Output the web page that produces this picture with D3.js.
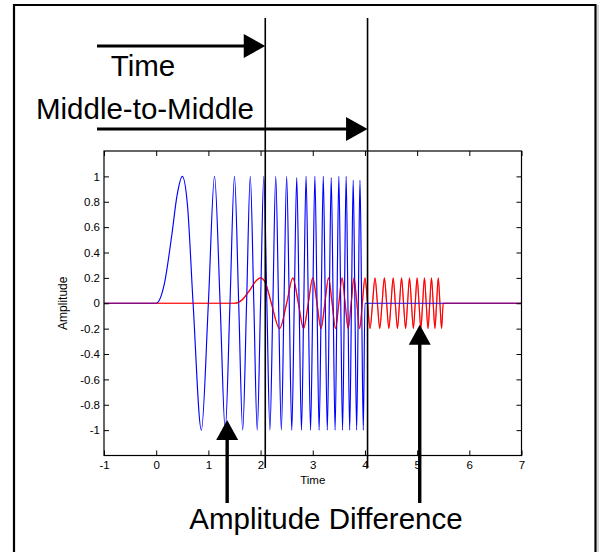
<!DOCTYPE html>
<html><head><meta charset="utf-8">
<script src="https://cdn.jsdelivr.net/npm/d3@7/dist/d3.min.js"></script>
<style>
body{margin:0;background:#fff}
svg{display:block}
text{font-family:"Liberation Sans",Arial,Helvetica,sans-serif}
</style>
</head><body>
<svg id="c" width="603" height="552"></svg>
<script>
// ---- data ----
const xTicks = [-1, 0, 1, 2, 3, 4, 5, 6, 7];
const yTicks = [-1, -0.8, -0.6, -0.4, -0.2, 0, 0.2, 0.4, 0.6, 0.8, 1];
const xLabel = "Time";
const yLabel = "Amplitude";

// blue signal: key points (zero crossings and extrema)
const blueT = [-1, 0, 0.15, 0.3, 0.4, 0.5, 0.6, 0.707, 0.866, 1.0, 1.118, 1.225, 1.323, 1.414,
  1.5, 1.581, 1.658, 1.732, 1.803, 1.871, 1.936, 2.0, 2.062, 2.121, 2.179, 2.236, 2.291, 2.345,
  2.398, 2.449, 2.5, 2.550, 2.598, 2.646, 2.693, 2.739, 2.784, 2.828, 2.872, 2.915, 2.958, 3.0,
  3.041, 3.082, 3.122, 3.162, 3.202, 3.240, 3.279, 3.317, 3.354, 3.391, 3.428, 3.464, 3.5, 3.536,
  3.571, 3.606, 3.640, 3.674, 3.708, 3.742, 3.775, 3.808, 3.841, 3.873, 3.905, 3.937, 3.969, 4.0, 7];
const blueY = [0, 0, 0.14, 0.54, 0.85, 1, 0.77, 0, -1, 0, 1, 0, -1, 0,
  1, 0, -1, 0, 1, 0, -1, 0, 1, 0, -1, 0, 1, 0,
  -1, 0, 1, 0, -1, 0, 0.99, 0, -1, 0, 1, 0, -1, 0,
  1, 0, -1, 0, 1, 0, -1, 0, 0.99, 0, -1, 0, 1, 0,
  -1, 0, 1, 0, -1, 0, 0.97, 0, -1, 0, 0.97, 0, -1, 0, 0];

// red signal: delayed, attenuated copy
const redT = [-1, 1.5, 1.65, 1.8, 1.9, 2.0, 2.1, 2.207, 2.366, 2.5, 2.618, 2.725, 2.823, 2.914,
  3.0, 3.081, 3.158, 3.232, 3.303, 3.371, 3.437, 3.5, 3.562, 3.621, 3.679, 3.736, 3.791, 3.845,
  3.898, 3.950, 4.0, 4.050, 4.098, 4.146, 4.193, 4.239, 4.284, 4.328, 4.372, 4.416, 4.458, 4.5,
  4.541, 4.582, 4.623, 4.662, 4.702, 4.740, 4.779, 4.817, 4.854, 4.891, 4.928, 4.964, 5.0, 5.036,
  5.071, 5.106, 5.140, 5.174, 5.208, 5.242, 5.275, 5.308, 5.341, 5.373, 5.405, 5.437, 5.469, 5.5, 7];
const redY = [0, 0, 0.028, 0.108, 0.17, 0.2, 0.154, 0, -0.2, 0, 0.2, 0, -0.2, 0,
  0.2, 0, -0.2, 0, 0.2, 0, -0.2, 0, 0.2, 0, -0.2, 0, 0.2, 0,
  -0.2, 0, 0.2, 0, -0.2, 0, 0.2, 0, -0.2, 0, 0.2, 0, -0.2, 0,
  0.2, 0, -0.2, 0, 0.2, 0, -0.2, 0, 0.2, 0, -0.2, 0, 0.2, 0,
  -0.2, 0, 0.2, 0, -0.2, 0, 0.2, 0, -0.2, 0, 0.2, 0, -0.2, 0, 0];

// annotation anchors (data units)
const markerTimes = [2.09, 4.05];                 // the two long vertical lines
const topLabels = ["Time", "Middle-to-Middle"];
const bottomArrowT = [1.36, 5.05];                // "Amplitude Difference" arrows
const bottomArrowTipY = [-0.92, -0.17];
const bottomLabel = "Amplitude Difference";

// ---- drawing ----
const svg = d3.select("#c");
const W = 603, H = 552;
const plot = {left: 104, right: 521.5, top: 151, bottom: 455.5};

const x = d3.scaleLinear().domain([-1, 7]).range([plot.left, plot.right]);
const y = d3.scaleLinear().domain([-1.2, 1.2]).range([plot.bottom, plot.top]);

// outer frame
svg.append("path").attr("d", `M598,5 V${H+10}`).attr("stroke", "#bbb").attr("stroke-width", 1.2).attr("fill", "none");
svg.append("path").attr("d", `M14,${H+10} V5 H595.5 V${H+10}`)
  .attr("stroke", "#000").attr("stroke-width", 2.2).attr("fill", "none");

// signals
const line = d3.line().x(d => x(d[0])).y(d => y(d[1])).curve(d3.curveMonotoneX);
const blue = blueT.map((t, i) => [t, blueY[i]]);
const red = redT.map((t, i) => [t, redY[i]]);

const g = svg.append("g");
g.append("path").attr("d", line(red)).attr("fill", "none").attr("stroke", "#ff0000").attr("stroke-width", 1.15);
g.append("path").attr("d", line(blue)).attr("fill", "none").attr("stroke", "#0000ff").attr("stroke-width", 1.15);
g.append("path").attr("d", line(red)).attr("fill", "none").attr("stroke", "#ff0000").attr("stroke-width", 1.15).attr("stroke-opacity", 0.5);

// axes (MATLAB-style box, ticks inward on all sides)
const fmt = d => String(d);
const axB = svg.append("g").attr("transform", `translate(0,${plot.bottom})`)
  .call(d3.axisBottom(x).tickValues(xTicks).tickFormat(fmt).tickSizeInner(-5).tickSizeOuter(0).tickPadding(5.5));
const axT = svg.append("g").attr("transform", `translate(0,${plot.top})`)
  .call(d3.axisTop(x).tickValues(xTicks).tickFormat("").tickSizeInner(-5).tickSizeOuter(0));
const axL = svg.append("g").attr("transform", `translate(${plot.left},0)`)
  .call(d3.axisLeft(y).tickValues(yTicks).tickFormat(fmt).tickSizeInner(-5).tickSizeOuter(0).tickPadding(4));
const axR = svg.append("g").attr("transform", `translate(${plot.right},0)`)
  .call(d3.axisRight(y).tickValues(yTicks).tickFormat("").tickSizeInner(-5).tickSizeOuter(0));
[axB, axT, axL, axR].forEach(a => {
  a.select(".domain").remove();
  a.selectAll("line").attr("stroke", "#000");
  a.selectAll("text").attr("fill", "#000").style("font-size", "11.5px")
    .style("font-family", '"Liberation Sans",Arial,sans-serif');
});
svg.append("rect").attr("x", plot.left).attr("y", plot.top)
  .attr("width", plot.right - plot.left).attr("height", plot.bottom - plot.top)
  .attr("fill", "none").attr("stroke", "#000").attr("stroke-width", 1.2);

svg.append("text").attr("x", (plot.left + plot.right) / 2).attr("y", 484)
  .attr("text-anchor", "middle").style("font-size", "11.5px").text(xLabel);
svg.append("text").attr("transform", `translate(67,${y(0)}) rotate(-90)`)
  .attr("text-anchor", "middle").style("font-size", "12px").text(yLabel);

// long vertical marker lines
markerTimes.forEach(t => {
  svg.append("line").attr("x1", x(t)).attr("x2", x(t)).attr("y1", 18).attr("y2", 468)
    .attr("stroke", "#000").attr("stroke-width", 1.6);
});

// horizontal arrows at top
function hArrow(x0, x1, yy) {
  svg.append("line").attr("x1", x0).attr("x2", x1 - 18).attr("y1", yy).attr("y2", yy)
    .attr("stroke", "#000").attr("stroke-width", 3);
  svg.append("path").attr("d", `M${x1},${yy} L${x1 - 21.5},${yy - 12} L${x1 - 21.5},${yy + 12} Z`).attr("fill", "#000");
}
hArrow(97, x(markerTimes[0]), 46);
hArrow(97, x(markerTimes[1]), 129);

// vertical arrows at bottom
function vArrow(xx, yTip, yEnd) {
  svg.append("line").attr("x1", xx).attr("x2", xx).attr("y1", yTip + 16).attr("y2", yEnd)
    .attr("stroke", "#000").attr("stroke-width", 3.4);
  svg.append("path").attr("d", `M${xx},${yTip} L${xx - 11},${yTip + 20} L${xx + 11},${yTip + 20} Z`).attr("fill", "#000");
}
bottomArrowT.forEach((t, i) => vArrow(x(t), y(bottomArrowTipY[i]), 503));

// annotation texts
svg.append("text").attr("x", 143).attr("y", 76).attr("text-anchor", "middle").style("font-size", "29.5px").text(topLabels[0]);
svg.append("text").attr("x", 145).attr("y", 119).attr("text-anchor", "middle").style("font-size", "29.5px").text(topLabels[1]);
svg.append("text").attr("x", 326).attr("y", 529).attr("text-anchor", "middle").style("font-size", "29.5px").text(bottomLabel);
</script>
</body></html>
